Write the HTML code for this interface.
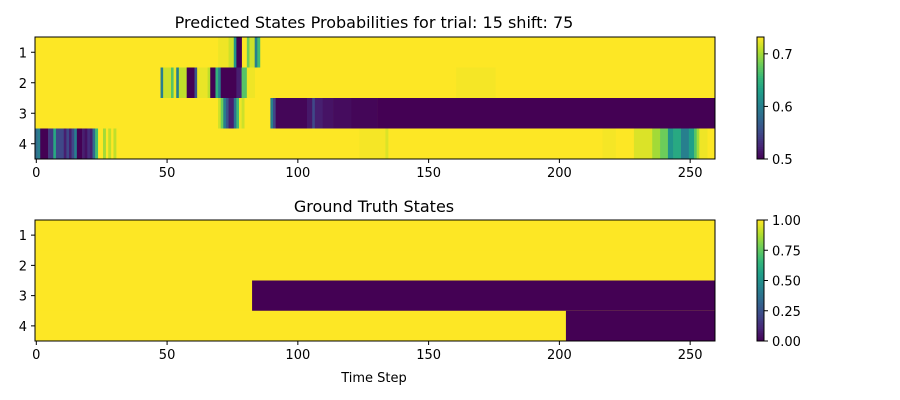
<!DOCTYPE html>
<html><head><meta charset="utf-8"><style>
body{margin:0;background:#fff;}
svg{display:block;font-family:"DejaVu Sans","Liberation Sans",sans-serif;}
</style></head><body>
<svg id="chart" width="900" height="400" viewBox="0 0 900 400">
<text x="374" y="28" font-size="16" text-anchor="middle">Predicted States Probabilities for trial: 15 shift: 75</text>
<text x="374" y="212" font-size="16" text-anchor="middle">Ground Truth States</text>
<text x="374" y="382" font-size="13" text-anchor="middle">Time Step</text>
<g id="top"></g>
<g id="bot"></g>
<g id="axes"></g>
</svg>
<script>
// Data: runs [startIndex, endIndex, value] per row; unspecified = max value
const nSteps = 260;
const rowLabels = ["1","2","3","4"];
const predDefault = 0.732;
const predRow1 = [[70,73,0.727],[74,75,0.715],[76,76,0.62],[77,78,0.5],[81,81,0.68],[82,83,0.715],[84,84,0.6],[85,85,0.66]];
const predRow2 = [[48,48,0.6],[49,51,0.715],[52,52,0.67],[53,53,0.725],[54,54,0.6],[55,57,0.71],[58,60,0.5],[61,61,0.56],[62,65,0.725],[66,66,0.71],[67,68,0.5],[69,69,0.65],[70,70,0.6],[71,76,0.5],[77,78,0.52],[79,80,0.67],[81,83,0.727],[161,175,0.729]];
const predRow3 = [[70,70,0.715],[71,71,0.68],[72,72,0.6],[73,73,0.56],[74,75,0.52],[76,76,0.59],[77,77,0.66],[78,78,0.727],[79,79,0.715],[90,90,0.6],[91,91,0.55],[92,103,0.503],[104,105,0.515],[106,106,0.55],[107,109,0.52],[110,113,0.512],[114,120,0.507],[121,130,0.503],[131,259,0.5]];
const predRow4 = [[0,0,0.58],[1,1,0.6],[2,4,0.5],[5,6,0.54],[7,7,0.64],[8,10,0.55],[11,11,0.52],[12,12,0.55],[13,13,0.52],[14,14,0.55],[15,15,0.6],[16,17,0.5],[18,18,0.52],[19,19,0.51],[20,20,0.53],[21,21,0.52],[22,22,0.58],[23,23,0.66],[26,26,0.7],[28,28,0.71],[30,30,0.71],[124,133,0.729],[134,134,0.72],[217,221,0.729],[229,235,0.72],[236,238,0.7],[239,241,0.68],[242,243,0.62],[244,246,0.64],[247,249,0.6],[250,251,0.63],[252,252,0.67],[253,253,0.7],[254,256,0.727]];
const truthRow1 = [];
const truthRow2 = [];
const truthRow3 = [[83,259,0]];
const truthRow4 = [[203,259,0]];
const topTicksX = [0,50,100,150,200,250];
const cbTopTicks = [0.5,0.6,0.7];
const cbBotTicks = [0,0.25,0.5,0.75,1.0];
const cbBotLabels = ["0.00","0.25","0.50","0.75","1.00"];

const VIR=[[68,1,84],[72,40,120],[62,74,137],[49,104,142],[38,130,142],[31,158,137],[53,183,121],[109,205,89],[180,222,44],[253,231,37]];
function viridis(t){t=Math.max(0,Math.min(1,t));const f=t*9,i=Math.min(8,Math.floor(f)),r=f-i;const a=VIR[i],b=VIR[i+1];return `rgb(${a.map((v,k)=>Math.round(v+(b[k]-v)*r)).join(',')})`;}
const NS="http://www.w3.org/2000/svg";
function el(tag,attrs,parent){const e=document.createElementNS(NS,tag);for(const k in attrs)e.setAttribute(k,attrs[k]);parent.appendChild(e);return e;}
const X0=35,X1=715;
const xs=i=>X0+(i+0.5)*(X1-X0)/nSteps;
const colW=(X1-X0)/nSteps;

function drawHeat(g,top,bot,rows,def,vmin,vmax,prefix){
  const rh=(bot-top)/rows.length;
  rows.forEach((runs,r)=>{
    const y=top+r*rh;
    const bg=el('rect',{x:X0,y:y,width:X1-X0,height:rh+0.3,fill:viridis((def-vmin)/(vmax-vmin))},g);
    
    
    runs.forEach(([s,e,v])=>{
      const c=el('rect',{x:xs(s)-colW/2,y:y,width:(e-s+1)*colW+0.3,height:rh+0.3,fill:viridis((v-vmin)/(vmax-vmin))},g);
      
      
    });
  });
  el('rect',{x:X0,y:top,width:X1-X0,height:bot-top,fill:'none',stroke:'#000','stroke-width':1},g);
}
const axes=document.getElementById('axes');
function drawAxes(top,bot,prefix){
  const rh=(bot-top)/4;
  topTicksX.forEach(t=>{const x=xs(t);
    el('line',{x1:x,x2:x,y1:bot,y2:bot+4,stroke:'#000'},axes);
    const tx=el('text',{x:x,y:bot+18,'font-size':13,'text-anchor':'middle'},axes);tx.textContent=t;
    
    });
  rowLabels.forEach((l,r)=>{const y=top+(r+0.5)*rh;
    el('line',{x1:X0-4,x2:X0,y1:y,y2:y,stroke:'#000'},axes);
    const tx=el('text',{x:X0-8,y:y+5,'font-size':13,'text-anchor':'end'},axes);tx.textContent=l;
    
    });
}
function drawCbar(top,bot,vmin,vmax,ticks,labels,prefix){
  const cx=757,cw=7;
  const n=60;
  for(let i=0;i<n;i++){const y=bot-(i+1)*(bot-top)/n;
    el('rect',{x:cx,y:y,width:cw,height:(bot-top)/n+0.4,fill:viridis((i+0.5)/n)},axes);}
  const f=el('rect',{x:cx,y:top,width:cw,height:bot-top,fill:'none',stroke:'#000','stroke-width':1},axes);
  
  
  ticks.forEach((t,i)=>{const y=bot-(t-vmin)/(vmax-vmin)*(bot-top);
    el('line',{x1:cx+cw,x2:cx+cw+4,y1:y,y2:y,stroke:'#000'},axes);
    const tx=el('text',{x:cx+cw+8,y:y+5,'font-size':13},axes);tx.textContent=labels[i];
    
    });
}
drawHeat(document.getElementById('top'),37,159,[predRow1,predRow2,predRow3,predRow4],predDefault,0.5,0.732,'predicted');
drawHeat(document.getElementById('bot'),220,341,[truthRow1,truthRow2,truthRow3,truthRow4],1,0,1,'truth');
drawAxes(37,159,'top');
drawAxes(220,341,'bottom');
drawCbar(37,159,0.5,0.732,cbTopTicks,cbTopTicks.map(String),'top');
drawCbar(220,341,0,1,cbBotTicks,cbBotLabels,'bottom');
</script>
</body></html>
